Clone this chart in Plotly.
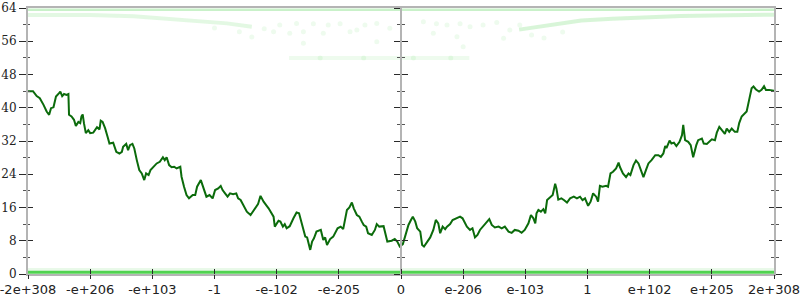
import plotly.graph_objects as go

# ---- data ----
tick_positions = [-6, -5, -4, -3, -2, -1, 0, 1, 2, 3, 4, 5, 6]
tick_labels = ["-2e+308", "-e+206", "-e+103", "-1", "-e-102", "-e-205", "0",
               "e-206", "e-103", "1", "e+102", "e+205", "2e+308"]
y_ticks = [0, 8, 16, 24, 32, 40, 48, 56, 64]

walk_x = [-6.00, -5.92, -5.86, -5.81, -5.75, -5.70, -5.66, -5.63, -5.59, -5.57, -5.55, -5.50, -5.48, -5.45,
          -5.42, -5.38, -5.35, -5.34, -5.30, -5.26, -5.23, -5.19, -5.16, -5.14, -5.12, -5.10, -5.07, -5.03,
          -5.00, -4.95, -4.89, -4.85, -4.83, -4.80, -4.76, -4.72, -4.69, -4.63, -4.58, -4.53, -4.49, -4.47,
          -4.42, -4.39, -4.36, -4.32, -4.29, -4.25, -4.21, -4.17, -4.13, -4.10, -4.06, -4.03, -3.98, -3.93,
          -3.88, -3.83, -3.80, -3.77, -3.73, -3.69, -3.65, -3.61, -3.55, -3.53, -3.49, -3.45, -3.41, -3.35,
          -3.31, -3.28, -3.22, -3.18, -3.13, -3.08, -3.03, -2.99, -2.94, -2.90, -2.87, -2.83, -2.79, -2.75,
          -2.70, -2.65, -2.62, -2.58, -2.54, -2.48, -2.42, -2.38, -2.33, -2.30, -2.26, -2.21, -2.16, -2.13,
          -2.05, -2.03, -1.97, -1.94, -1.90, -1.87, -1.84, -1.79, -1.73, -1.68, -1.64, -1.60, -1.54, -1.51,
          -1.46, -1.43, -1.40, -1.36, -1.29, -1.25, -1.22, -1.19, -1.14, -1.09, -1.02, -0.97, -0.93, -0.87,
          -0.83, -0.79, -0.76, -0.71, -0.67, -0.63, -0.60, -0.56, -0.53, -0.47, -0.42, -0.39, -0.35, -0.28,
          -0.24, -0.22, -0.15, -0.10, -0.06, -0.02, 0.03, 0.06, 0.12, 0.16, 0.19, 0.23, 0.26, 0.31, 0.34,
          0.37, 0.41, 0.47, 0.52, 0.56, 0.60, 0.63, 0.67, 0.71, 0.74, 0.79, 0.83, 0.90, 0.95, 0.99, 1.06,
          1.11, 1.15, 1.19, 1.23, 1.27, 1.32, 1.38, 1.42, 1.46, 1.51, 1.57, 1.62, 1.67, 1.73, 1.78, 1.83,
          1.89, 1.94, 1.99, 2.05, 2.09, 2.13, 2.16, 2.18, 2.21, 2.25, 2.29, 2.32, 2.35, 2.40, 2.44, 2.48,
          2.50, 2.53, 2.58, 2.62, 2.67, 2.72, 2.78, 2.83, 2.88, 2.92, 2.96, 3.01, 3.05, 3.09, 3.14, 3.17,
          3.20, 3.24, 3.30, 3.33, 3.37, 3.41, 3.46, 3.50, 3.52, 3.57, 3.62, 3.66, 3.69, 3.74, 3.78, 3.82,
          3.86, 3.90, 3.94, 3.98, 4.03, 4.09, 4.14, 4.18, 4.22, 4.25, 4.27, 4.32, 4.35, 4.39, 4.43, 4.48,
          4.52, 4.54, 4.57, 4.62, 4.66, 4.70, 4.75, 4.78, 4.84, 4.87, 4.92, 4.96, 5.00, 5.05, 5.08, 5.12,
          5.16, 5.21, 5.24, 5.28, 5.32, 5.37, 5.41, 5.44, 5.48, 5.52, 5.56, 5.60, 5.64, 5.67, 5.71, 5.76,
          5.80, 5.84, 5.87, 5.92, 6.00]
walk_y = [44.0, 44.0, 42.8, 42.3, 40.7, 39.1, 38.3, 39.9, 40.1, 41.1, 42.7, 43.5, 43.9, 42.8,
          43.3, 43.1, 43.3, 38.3, 37.9, 37.1, 35.6, 36.6, 36.3, 37.9, 38.4, 36.3, 33.9, 34.6,
          33.9, 34.0, 35.3, 34.8, 36.9, 36.6, 35.1, 33.0, 31.4, 31.6, 29.4, 29.0, 29.4, 30.6,
          31.3, 29.8, 31.0, 31.3, 30.2, 27.4, 25.0, 24.2, 22.6, 24.2, 23.8, 25.0, 25.7, 26.6,
          27.0, 28.1, 27.4, 28.1, 26.2, 25.7, 25.8, 25.4, 25.8, 23.4, 21.0, 19.0, 18.2, 19.0,
          19.0, 21.0, 22.6, 21.0, 18.6, 19.0, 18.2, 20.2, 20.6, 21.2, 20.2, 19.4, 18.6, 19.4,
          19.2, 19.4, 18.2, 17.8, 16.6, 15.0, 14.2, 15.0, 16.2, 16.8, 18.8, 17.4, 16.4, 15.8,
          13.8, 11.4, 12.8, 12.6, 11.4, 12.0, 11.0, 11.5, 13.4, 14.8, 14.6, 12.6, 9.0, 8.8,
          5.8, 7.8, 8.6, 10.2, 10.6, 8.2, 8.8, 7.0, 8.4, 9.0, 11.0, 11.4, 10.8, 15.4,
          16.0, 17.2, 15.8, 14.2, 13.8, 12.6, 11.8, 11.4, 9.8, 9.4, 10.6, 12.0, 11.4, 11.5,
          9.4, 7.8, 8.0, 8.4, 7.8, 6.6, 7.2, 8.6, 11.8, 13.0, 13.8, 12.6, 11.0, 10.2, 7.0,
          6.6, 7.5, 8.8, 10.6, 13.0, 12.2, 9.8, 11.4, 10.8, 11.4, 12.0, 13.0, 13.4, 13.8, 13.4, 11.4,
          10.6, 11.0, 8.8, 9.4, 10.6, 11.4, 12.4, 13.2, 11.8, 11.2, 11.4, 11.0, 11.4, 10.2, 9.9, 10.6,
          10.4, 9.9, 10.6, 12.2, 14.2, 13.4, 12.2, 14.6, 15.4, 15.0, 15.6, 14.6, 17.8, 18.4, 19.0, 21.7,
          20.6, 17.9, 18.2, 17.8, 17.2, 18.2, 18.6, 18.2, 18.6, 17.8, 18.2, 16.4, 17.4, 19.4, 18.6, 17.4,
          21.2, 21.0, 21.2, 21.0, 24.2, 24.6, 25.4, 26.8, 25.8, 24.2, 23.3, 24.2, 23.8, 26.2, 27.3, 26.6,
          25.0, 23.3, 25.0, 26.6, 27.4, 28.6, 28.6, 28.2, 29.0, 30.8, 30.3, 32.1, 31.4, 31.6, 30.8, 31.8,
          33.4, 35.9, 32.2, 31.8, 31.0, 28.1, 31.0, 32.2, 32.6, 31.4, 31.3, 31.8, 32.4, 32.2, 34.0, 35.4,
          34.5, 33.7, 35.0, 34.2, 35.0, 34.2, 34.2, 36.3, 37.9, 38.5, 39.1, 41.9, 44.7, 45.1, 44.4, 43.9,
          44.3, 45.2, 44.3, 44.3, 44.1]

# faint background bands (light green)
band_bottom_x = [-6, 6]
band_bottom_y = [0.4, 0.4]
band_low_x = [-6, 6]
band_low_y = [1.1, 1.1]
band_top_x = [-6, 6]
band_top_y = [63.6, 63.6]
band_left_x = [-6.0, -5.0, -4.3, -3.8, -3.3, -2.8, -2.4]
band_left_y = [62.3, 62.3, 62.0, 61.5, 61.0, 60.3, 59.5]
band_right_x = [1.9, 2.4, 2.9, 3.4, 4.0, 4.5, 5.0, 5.5, 6.0]
band_right_y = [58.8, 59.9, 61.0, 61.4, 61.8, 62.1, 62.2, 62.3, 62.4]
band_mid_x = [-1.8, 1.1]
band_mid_y = [52.0, 52.0]

dots_x = [-2.05, -1.95, -1.79, -1.68, -1.57, -1.41, -1.25, -1.17, -0.98, -0.82, -0.71, -0.58, -0.39,
          -0.18, 0.36, 0.57, 0.52, 0.74, 0.95, 1.11, 1.32, 1.54, 1.75, 1.91, 0.90, -1.57, 1.00, -0.39,
          1.65, -2.6, -2.4, -2.2, 2.1, 2.3, 2.6, -3.0, -1.3, -0.6, 0.2, 0.8]
dots_y = [58.3, 59.9, 57.9, 60.3, 58.3, 60.2, 57.9, 59.9, 60.2, 58.3, 58.7, 59.9, 60.3,
          59.1, 60.7, 60.2, 57.9, 59.9, 60.2, 59.5, 59.9, 60.5, 58.7, 59.9, 57.1, 55.5, 54.7, 55.9,
          56.7, 58.3, 57.0, 59.0, 57.5, 56.8, 58.2, 59.2, 52.0, 52.0, 52.0, 52.0]

# ---- figure ----
fig = go.Figure()
GREEN_FAINT = "rgba(40,200,40,{})"

def band(xs, ys, alpha, width, color=None):
    fig.add_trace(go.Scatter(x=xs, y=ys, mode="lines",
                             line=dict(color=color or GREEN_FAINT.format(alpha), width=width),
                             hoverinfo="skip", showlegend=False))

band(band_top_x, band_top_y, 0.25, 2.5)
band(band_left_x, band_left_y, 0.13, 4)
band(band_right_x, band_right_y, 0.18, 4)
band(band_mid_x, band_mid_y, 0.08, 4)
band(band_low_x, band_low_y, 0.1, 3)
band(band_bottom_x, band_bottom_y, 1, 3, color="rgb(80,210,80)")

fig.add_trace(go.Scatter(x=dots_x, y=dots_y, mode="markers",
                         marker=dict(color="rgba(40,200,40,0.08)", size=5, line=dict(width=0)),
                         hoverinfo="skip", showlegend=False))

fig.add_trace(go.Scatter(x=walk_x, y=walk_y, mode="lines",
                         line=dict(color="#0b6b0b", width=2),
                         showlegend=False))

# dummy traces so overlay axes are drawn
for ya in ["y2", "y3", "y4", "y5", "y6"]:
    fig.add_trace(go.Scatter(x=[None], y=[None], yaxis=ya, showlegend=False, hoverinfo="skip"))
for xa in ["x2", "x3"]:
    fig.add_trace(go.Scatter(x=[None], y=[None], xaxis=xa, showlegend=False, hoverinfo="skip"))

TICKC = "#2a2a2a"
LINEC = "#b4b4b4"

def yax(ticks, ticklen, minorlen, **kw):
    d = dict(range=[0, 64], tickvals=y_ticks, ticks=ticks, ticklen=ticklen, tickwidth=1.3,
             tickcolor=TICKC, showgrid=False, zeroline=False, fixedrange=True, automargin=False,
             ticklabeloverflow="allow",
             minor=dict(ticks=ticks, ticklen=minorlen, tickwidth=1, tickcolor="#555",
                        dtick=4, tick0=0, showgrid=False))
    d.update(kw)
    return d

def xtick_ax(ticks, ticklen):
    return dict(range=[-6, 6], tickvals=tick_positions, overlaying="x", side="bottom",
                anchor="y", ticks=ticks, ticklen=ticklen, tickwidth=1.3, tickcolor=TICKC,
                automargin=False, showticklabels=False, showline=False, showgrid=False,
                zeroline=False)

fig.update_layout(
    width=800, height=300,
    margin=dict(l=28, r=26, t=8, b=26),
    paper_bgcolor="white", plot_bgcolor="white",
    xaxis=dict(range=[-6, 6], tickvals=tick_positions, ticktext=tick_labels,
               ticks="", showline=True, linecolor=LINEC, linewidth=2, mirror=True,
               automargin=False, ticklabeloverflow="allow", ticklabelstandoff=2,
               showgrid=False, zeroline=False, layer="below traces",
               tickfont=dict(family="DejaVu Sans", size=13, color="#222")),
    xaxis2=xtick_ax("inside", 5),
    xaxis3=xtick_ax("outside", 4),
    yaxis=yax("outside", 7, 3, showline=True, linecolor=LINEC, linewidth=2,
              tickfont=dict(family="DejaVu Serif", size=12, color="#222")),
    yaxis2=yax("inside", 5, 2, overlaying="y", anchor="x", side="left",
               showticklabels=False, showline=False),
    yaxis3=yax("outside", 6, 3, overlaying="y", anchor="free", position=0.5, side="left",
               showticklabels=False, showline=True, linecolor=LINEC, linewidth=2),
    yaxis4=yax("inside", 6, 3, overlaying="y", anchor="free", position=0.5, side="left",
               showticklabels=False, showline=False),
    yaxis5=yax("outside", 6, 3, overlaying="y", anchor="x", side="right",
               showticklabels=False, showline=True, linecolor=LINEC, linewidth=2),
    yaxis6=yax("inside", 5, 3, overlaying="y", anchor="x", side="right",
               showticklabels=False, showline=False),
)

fig.write_html("out.html")
